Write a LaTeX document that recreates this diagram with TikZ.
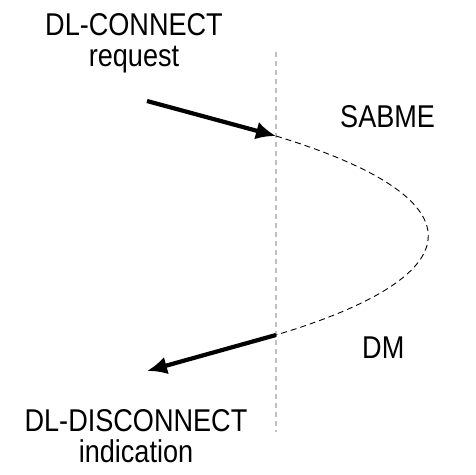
\documentclass[tikz,border=0pt]{standalone}
\usepackage{fontspec}
\setmainfont{Liberation Sans}[FakeStretch=0.86]
\usetikzlibrary{arrows.meta,positioning}
\tikzset{
  txt/.style      = {inner sep=0pt, font=\fontsize{31.5}{31}\selectfont, align=center},
  timeline/.style = {draw=black!25, line width=1.5pt, dash pattern=on 5pt off 4pt},
  prim/.style     = {-{Latex[length=20pt,width=18pt]}, line width=4.2pt},
  pdu/.style      = {draw, line width=0.9pt, dash pattern=on 6pt off 4pt}
}
\begin{document}
\begin{tikzpicture}[x=1pt,y=-1pt]
\useasboundingbox (0,0) rectangle (476,474);

% station boundary
\coordinate (top) at (276,52);
\coordinate (bot) at (276,432);
\draw[timeline] (top) -- (bot);

% where the primitives meet the boundary
\coordinate (tx) at (276,136);
\coordinate (rx) at (276,335);
\coordinate (reqfrom) at (147,101);
\coordinate (indto) at (147,371);

% primitives and frames
\node[txt, anchor=north] (req) at (134,13) {DL-CONNECT\\request};
\node[txt, anchor=north] (ind) at (136,409) {DL-DISCONNECT\\indication};
\node[txt, anchor=north west] (sabme) at (340,105) {SABME};
\node[txt, anchor=north west] (dm) at (362,337) {DM};

\draw[prim] (reqfrom) -- (tx);
\draw[pdu] (tx) .. controls (479,198) and (479,274) .. (rx);
\draw[prim] (rx) -- (indto);
\end{tikzpicture}
\end{document}
